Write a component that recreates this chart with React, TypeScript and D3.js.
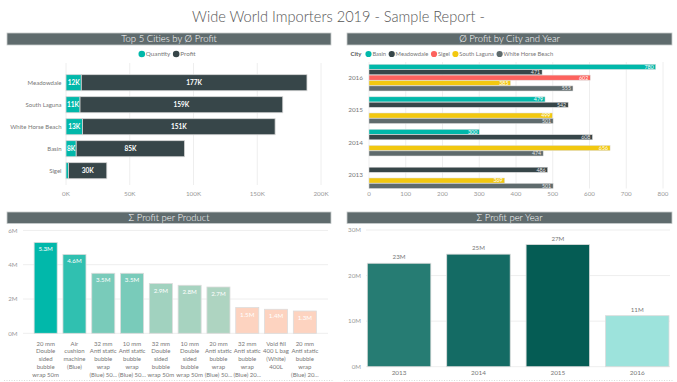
import React, { useEffect, useRef } from "react";
import * as d3 from "d3";

const W = 677;
const H = 382;
const FONT = "Lato, 'Open Sans', sans-serif";

// ---- Data: Top 5 cities (K)
const cities = ["Meadowdale", "South Laguna", "White Horse Beach", "Basin", "Sigel"];
const cityQuantity = [12, 11, 13, 8, 2];
const cityProfit = [177, 159, 151, 85, 30];
const cityTicks = [0, 50, 100, 150, 200];

// ---- Data: Avg profit by city and year
const years = ["2016", "2015", "2014", "2013"];
const yearCities = ["Basin", "Meadowdale", "Sigel", "South Laguna", "White Horse Beach"];
const basinByYear = [780, 479, 300, null];
const meadowdaleByYear = [471, 542, 608, 486];
const sigelByYear = [602, null, null, null];
const southLagunaByYear = [385, 499, 656, 369];
const whiteHorseByYear = [555, 501, 474, 501];
const cityYearTicks = [0, 100, 200, 300, 400, 500, 600, 700, 800];

// ---- Data: Profit per product (M)
const productLabels = [
  ["20 mm", "Double", "sided", "bubble", "wrap 50m"],
  ["Air", "cushion", "machine", "(Blue)"],
  ["32 mm", "Anti static", "bubble", "wrap", "(Blue) 50..."],
  ["10 mm", "Anti static", "bubble", "wrap", "(Blue) 50..."],
  ["32 mm", "Double", "sided", "bubble", "wrap 50m"],
  ["10 mm", "Double", "sided", "bubble", "wrap 50m"],
  ["20 mm", "Anti static", "bubble", "wrap", "(Blue) 50..."],
  ["32 mm", "Anti static", "bubble", "wrap", "(Blue) 20..."],
  ["Void fill", "400 L bag", "(White)", "400L"],
  ["20 mm", "Anti static", "bubble", "wrap", "(Blue) 20..."],
];
const productProfit = [5.3, 4.6, 3.5, 3.5, 2.9, 2.8, 2.7, 1.5, 1.4, 1.3];
const productTicks = [0, 2, 4, 6];

// ---- Data: Profit per year (M)
const profitYears = ["2013", "2014", "2015", "2016"];
const profitPerYear = [22.7, 24.7, 26.8, 11.2];
const yearTicks = [0, 10, 20, 30];

// ---- Styles
const HEADER_FILL = "#5F6B6D";
const QTY_COLOR = "#01B8AA";
const PROFIT_COLOR = "#374649";
const CITY_COLORS = ["#01B8AA", "#374649", "#FD625E", "#F2C80F", "#5F6B6D"];
const YEAR_COLORS = ["#267C73", "#146B64", "#055C54", "#9DE3DC"];

type Sel = d3.Selection<SVGGElement, unknown, null, undefined>;

function header(g: Sel, x0: number, x1: number, y0: number, y1: number, text: string) {
  g.append("rect").attr("x", x0).attr("y", y0).attr("width", x1 - x0).attr("height", y1 - y0)
    .attr("fill", HEADER_FILL).attr("stroke", "#c8cccc").attr("stroke-width", 0.8);
  g.append("text").attr("x", (x0 + x1) / 2).attr("y", y1 - 2.7).attr("text-anchor", "middle")
    .attr("fill", "#fff").attr("font-size", 9.5).attr("font-weight", 300).text(text);
}

function legend(g: Sel, items: { label: string; color: string }[], startX: number, y: number, fs: number, r: number, center?: boolean) {
  const lg = g.append("g");
  let x = 0;
  items.forEach((it) => {
    lg.append("circle").attr("cx", x + r).attr("cy", y).attr("r", r).attr("fill", it.color);
    const t = lg.append("text").attr("x", x + 2 * r + 0.8).attr("y", y + fs * 0.35)
      .attr("font-size", fs).attr("fill", "#777").text(it.label);
    const w = (t.node() as SVGTextElement).getComputedTextLength();
    x += 2 * r + 0.8 + w + 2.5;
  });
  const total = x - 2.5;
  lg.attr("transform", `translate(${center ? startX - total / 2 : startX},0)`);
}

function draw(svgEl: SVGSVGElement) {
  const svg = d3.select(svgEl);
  svg.selectAll("*").remove();
  const root = svg.append("g").attr("font-family", FONT) as unknown as Sel;

  // Title
  root.append("text").attr("x", 338.5).attr("y", 22).attr("text-anchor", "middle")
    .attr("font-size", 14.6).attr("font-weight", 300).attr("fill", "#555")
    .text("Wide World Importers 2019 - Sample Report -");

  header(root, 7, 331, 33, 45, "Top 5 Cities by Ø Profit");
  header(root, 347, 672, 33, 45, "Ø Profit by City and Year");
  header(root, 7, 331, 212, 223.5, "Σ Profit per Product");
  header(root, 347, 672, 212, 223.5, "Σ Profit per Year");

  // ---------- Chart 1
  {
    const g = root.append("g") as unknown as Sel;
    const x = d3.scaleLinear().domain([0, 200]).range([66, 321]);
    const y = d3.scaleBand<string>().domain(cities).range([71.7, 181.7]).paddingInner(0.27).paddingOuter(0.135);
    cityTicks.forEach((t) => {
      g.append("line").attr("x1", x(t)).attr("x2", x(t)).attr("y1", 63).attr("y2", 185)
        .attr("stroke", "#eeeeee").attr("stroke-width", 1);
      g.append("text").attr("x", x(t)).attr("y", 196).attr("text-anchor", "middle")
        .attr("font-size", 6.3).attr("fill", "#999").text(`${t}K`);
    });
    legend(g, [{ label: "Quantity", color: QTY_COLOR }, { label: "Profit", color: PROFIT_COLOR }], 167, 54, 6.3, 3.3, true);
    cities.forEach((c, i) => {
      const y0 = y(c)!;
      const bw = y.bandwidth();
      const q = cityQuantity[i];
      const p = cityProfit[i];
      g.append("text").attr("x", 61.5).attr("y", y0 + bw / 2 + 2.2).attr("text-anchor", "end")
        .attr("font-size", 6).attr("fill", "#777").text(c);
      g.append("rect").attr("x", x(0)).attr("y", y0).attr("width", x(q) - x(0)).attr("height", bw)
        .attr("fill", QTY_COLOR).attr("stroke", "#d6d6d6").attr("stroke-width", 0.8);
      g.append("rect").attr("x", x(q)).attr("y", y0).attr("width", x(q + p) - x(q)).attr("height", bw)
        .attr("fill", PROFIT_COLOR).attr("stroke", "#d6d6d6").attr("stroke-width", 0.8);
      if (q >= 5) {
        g.append("text").attr("x", (x(0) + x(q)) / 2).attr("y", y0 + bw / 2 + 2.4).attr("text-anchor", "middle")
          .attr("font-size", 6.5).attr("font-weight", 700).attr("fill", "#fff").text(`${q}K`);
      }
      g.append("text").attr("x", (x(q) + x(q + p)) / 2).attr("y", y0 + bw / 2 + 2.4).attr("text-anchor", "middle")
        .attr("font-size", 6.5).attr("font-weight", 700).attr("fill", "#fff").text(`${p}K`);
    });
  }

  // ---------- Chart 2
  {
    const g = root.append("g") as unknown as Sel;
    const x = d3.scaleLinear().domain([0, 800]).range([369, 663]);
    const y0 = d3.scaleBand<string>().domain(years).range([61.4, 191.4]).paddingInner(0.18).paddingOuter(0.09);
    const y1 = d3.scaleBand<string>().domain(yearCities).range([0, y0.bandwidth()]).paddingInner(0.06);
    const series = [basinByYear, meadowdaleByYear, sigelByYear, southLagunaByYear, whiteHorseByYear];
    cityYearTicks.forEach((t) => {
      g.append("line").attr("x1", x(t)).attr("x2", x(t)).attr("y1", 62).attr("y2", 188.5)
        .attr("stroke", "#eeeeee").attr("stroke-width", 1);
      g.append("text").attr("x", x(t)).attr("y", 195.5).attr("text-anchor", "middle")
        .attr("font-size", 6.2).attr("fill", "#999").text(`${t}`);
    });
    // legend
    const cityT = g.append("text").attr("x", 350.5).attr("y", 56.1).attr("font-size", 6)
      .attr("font-weight", 700).attr("fill", "#555").text("City");
    const cw = (cityT.node() as SVGTextElement).getComputedTextLength();
    legend(g, yearCities.map((c, i) => ({ label: c, color: CITY_COLORS[i] })), 350.5 + cw + 4, 54, 5.8, 3.1);
    years.forEach((yr, yi) => {
      const gy = y0(yr)!;
      g.append("text").attr("x", 363).attr("y", gy + y0.bandwidth() / 2 + 2.3).attr("text-anchor", "end")
        .attr("font-size", 6.4).attr("fill", "#777").text(yr);
      yearCities.forEach((c, ci) => {
        const v = series[ci][yi];
        if (v == null) return;
        const by = gy + y1(c)!;
        const bh = y1.bandwidth();
        g.append("rect").attr("x", x(0)).attr("y", by).attr("width", x(v) - x(0)).attr("height", bh)
          .attr("fill", CITY_COLORS[ci]).attr("stroke", "#dcdcdc").attr("stroke-width", 0.5);
        g.append("text").attr("x", x(v) - 2).attr("y", by + bh / 2 + 1.9).attr("text-anchor", "end")
          .attr("font-size", 5.3).attr("fill", ci === 1 || ci === 4 ? "#e8e8e8" : "#fff").text(`${v}`);
      });
    });
  }

  // ---------- Chart 3
  {
    const g = root.append("g") as unknown as Sel;
    const y = d3.scaleLinear().domain([0, 6]).range([333.3, 230.4]);
    const idx = productProfit.map((_, i) => String(i));
    const x = d3.scaleBand<string>().domain(idx).range([25.5, 325]).paddingInner(0.2).paddingOuter(0.3);
    const teal = d3.scaleLinear<string>().domain([2.7, 5.3]).range(["#AED4C1", "#01B8AA"]).clamp(true);
    const color = (v: number) => (v < 2 ? "#FDD3C0" : teal(v));
    productTicks.forEach((t) => {
      g.append("line").attr("x1", 23).attr("x2", 328).attr("y1", y(t)).attr("y2", y(t))
        .attr("stroke", "#eeeeee").attr("stroke-width", 1);
      g.append("text").attr("x", 17.5).attr("y", y(t) + 2.2).attr("text-anchor", "end")
        .attr("font-size", 6.2).attr("fill", "#999").text(`${t}M`);
    });
    productProfit.forEach((v, i) => {
      const bx = x(String(i))!;
      const bw = x.bandwidth();
      g.append("rect").attr("x", bx).attr("y", y(v)).attr("width", bw).attr("height", y(0) - y(v))
        .attr("fill", color(v)).attr("stroke", "#dcdcdc").attr("stroke-width", 0.8);
      g.append("text").attr("x", bx + bw / 2).attr("y", y(v) + 9).attr("text-anchor", "middle")
        .attr("font-size", 6.2).attr("fill", "#fff").text(`${v.toFixed(1)}M`);
      productLabels[i].forEach((line, li) => {
        g.append("text").attr("x", bx + bw / 2).attr("y", 345.6 + li * 7.8).attr("text-anchor", "middle")
          .attr("font-size", 6).attr("fill", "#777").text(line);
      });
    });
  }

  // ---------- Chart 4
  {
    const g = root.append("g") as unknown as Sel;
    const y = d3.scaleLinear().domain([0, 30]).range([366.7, 230]);
    const x = d3.scaleBand<string>().domain(profitYears).range([367.3, 669]).paddingInner(0.2).paddingOuter(0);
    yearTicks.forEach((t) => {
      g.append("line").attr("x1", 366).attr("x2", 670).attr("y1", y(t)).attr("y2", y(t))
        .attr("stroke", "#eeeeee").attr("stroke-width", 1);
      g.append("text").attr("x", 361).attr("y", y(t) + 2.2).attr("text-anchor", "end")
        .attr("font-size", 6.2).attr("fill", "#999").text(`${t}M`);
    });
    profitPerYear.forEach((v, i) => {
      const bx = x(profitYears[i])!;
      const bw = x.bandwidth();
      g.append("rect").attr("x", bx).attr("y", y(v)).attr("width", bw).attr("height", y(0) - y(v))
        .attr("fill", YEAR_COLORS[i]).attr("stroke", "#dcdcdc").attr("stroke-width", 0.8);
      g.append("text").attr("x", bx + bw / 2).attr("y", y(v) - 4).attr("text-anchor", "middle")
        .attr("font-size", 6.2).attr("fill", "#777").text(`${Math.round(v)}M`);
      g.append("text").attr("x", bx + bw / 2).attr("y", 374.8).attr("text-anchor", "middle")
        .attr("font-size", 6.4).attr("fill", "#777").text(profitYears[i]);
    });
  }

  // dotted bottom separators
  root.append("line").attr("x1", 4).attr("x2", 334).attr("y1", 380.5).attr("y2", 380.5)
    .attr("stroke", "#ccc").attr("stroke-dasharray", "1,1.5").attr("stroke-width", 0.7);
  root.append("line").attr("x1", 344).attr("x2", 674).attr("y1", 380.5).attr("y2", 380.5)
    .attr("stroke", "#ccc").attr("stroke-dasharray", "1,1.5").attr("stroke-width", 0.7);
}

export default function App() {
  const ref = useRef<SVGSVGElement>(null);
  useEffect(() => {
    if (ref.current) draw(ref.current);
  }, []);
  return (
    <div style={{ position: "absolute", left: 0, top: 0, width: W, height: H, background: "#fff" }}>
      <svg ref={ref} width={W} height={H} style={{ display: "block" }} />
    </div>
  );
}
